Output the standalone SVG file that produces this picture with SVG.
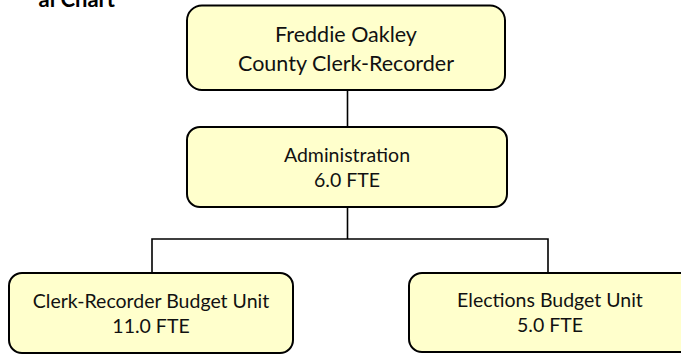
<svg xmlns="http://www.w3.org/2000/svg" width="681" height="354" viewBox="0 0 681 354">
<style>
.box{fill:#FFFFCC;stroke:#000;stroke-width:2}
.t{font-family:Lato,"Open Sans",sans-serif;fill:#111;text-anchor:middle}
.big{font-size:21.5px}
.sm{font-size:19.5px}
.conn{fill:none;stroke:#000;stroke-width:1.6}
.title{font-family:Lato,"Liberation Sans",sans-serif;font-weight:bold;font-size:22px;fill:#000;text-anchor:end}
</style>
<rect width="681" height="354" fill="#fff"/>
<text class="title" x="115" y="7">al Chart</text>
<g id="connectors">
<path class="conn" d="M347.5 90V127"/>
<path class="conn" d="M347.5 207V239"/>
<path class="conn" d="M152 273V239H548V273"/>
</g>
<g id="node-clerk-recorder">
<rect class="box" x="187" y="5.5" width="318" height="84.5" rx="15"/>
<text class="t big" x="346" y="42">Freddie Oakley</text>
<text class="t big" x="346" y="71">County Clerk-Recorder</text>
</g>
<g id="node-administration">
<rect class="box" x="187" y="127" width="320" height="80" rx="13"/>
<text class="t sm" x="347" y="162">Administration</text>
<text class="t sm" x="347" y="187">6.0 FTE</text>
</g>
<g id="node-clerk-recorder-budget">
<rect class="box" x="9" y="273" width="284" height="80" rx="13"/>
<text class="t sm" x="151" y="308">Clerk-Recorder Budget Unit</text>
<text class="t sm" x="151" y="333">11.0 FTE</text>
</g>
<g id="node-elections-budget">
<rect class="box" x="409" y="273" width="290" height="79" rx="13"/>
<text class="t sm" x="550" y="307">Elections Budget Unit</text>
<text class="t sm" x="550" y="332">5.0 FTE</text>
</g>
</svg>
